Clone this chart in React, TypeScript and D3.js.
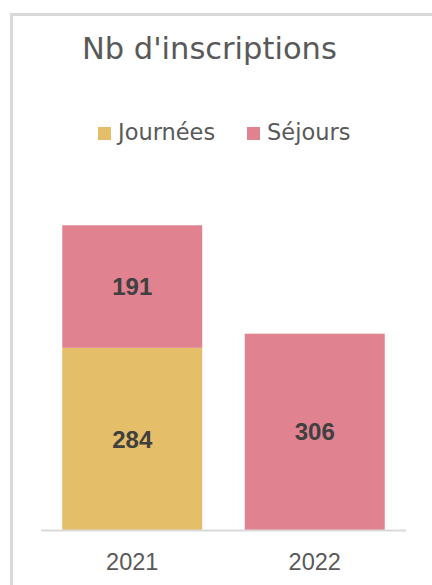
import React from "react";
import * as d3 from "d3";

const categories = ["2021", "2022"];
const journees = [284, 0];
const sejours = [191, 306];
const seriesNames = ["Journées", "Séjours"];
const seriesColors = ["#E4BE69", "#E08290"];
const yMax = 500;

export default function App() {
  const W = 432, H = 585;
  const plotLeft = 41, plotRight = 406, plotBottom = 530;
  const x = d3.scaleBand<string>().domain(categories).range([plotLeft, plotRight]).paddingInner(0.233).paddingOuter(0.1165);
  const y = d3.scaleLinear().domain([0, yMax]).range([plotBottom, plotBottom - 0.6415 * yMax]);

  const rows = categories.map((c, i) => ({ cat: c, Journées: journees[i], Séjours: sejours[i] }));
  const stack = d3.stack<any>().keys(seriesNames)(rows);

  return (
    <svg width={W} height={H} style={{ position: "absolute", left: 0, top: 0 }}>
      <rect x={0} y={0} width={W} height={H} fill="#fff" />
      <path d={`M11.5,${H} L11.5,14.5 L${W},14.5`} fill="none" stroke="#d9d9d9" strokeWidth={3} />
      <text x={82} y={59} fontFamily="DejaVu Sans" fontSize={30.5} fill="#595959">Nb d'inscriptions</text>
      {seriesNames.map((s, i) => {
        const lx = [98, 247][i];
        return (
          <g key={s}>
            <rect x={lx} y={127} width={13} height={13} fill={seriesColors[i]} />
            <text x={lx + 20} y={140} fontFamily="DejaVu Sans" fontSize={22.5} fill="#595959">{s}</text>
          </g>
        );
      })}
      {stack.map((layer, si) => (
        <g key={si} fill={seriesColors[si]}>
          {layer.map((d, ci) => {
            const v = d[1] - d[0];
            if (v <= 0) return null;
            const bx = x(categories[ci])!;
            const y0 = y(d[0]), y1 = y(d[1]);
            return (
              <g key={ci}>
                <rect x={bx} y={y1} width={x.bandwidth()} height={y0 - y1} />
                <text x={bx + x.bandwidth() / 2} y={(y0 + y1) / 2} dy="0.36em" textAnchor="middle"
                  fontFamily="Liberation Sans" fontWeight="bold" fontSize={24} fill="#404040">{v}</text>
              </g>
            );
          })}
        </g>
      ))}
      <line x1={plotLeft} x2={plotRight} y1={plotBottom + 0.5} y2={plotBottom + 0.5} stroke="#d9d9d9" strokeWidth={2} />
      {categories.map(c => (
        <text key={c} x={x(c)! + x.bandwidth() / 2} y={570} textAnchor="middle" fontFamily="Liberation Sans"
          fontSize={23.5} fill="#595959">{c}</text>
      ))}
    </svg>
  );
}
